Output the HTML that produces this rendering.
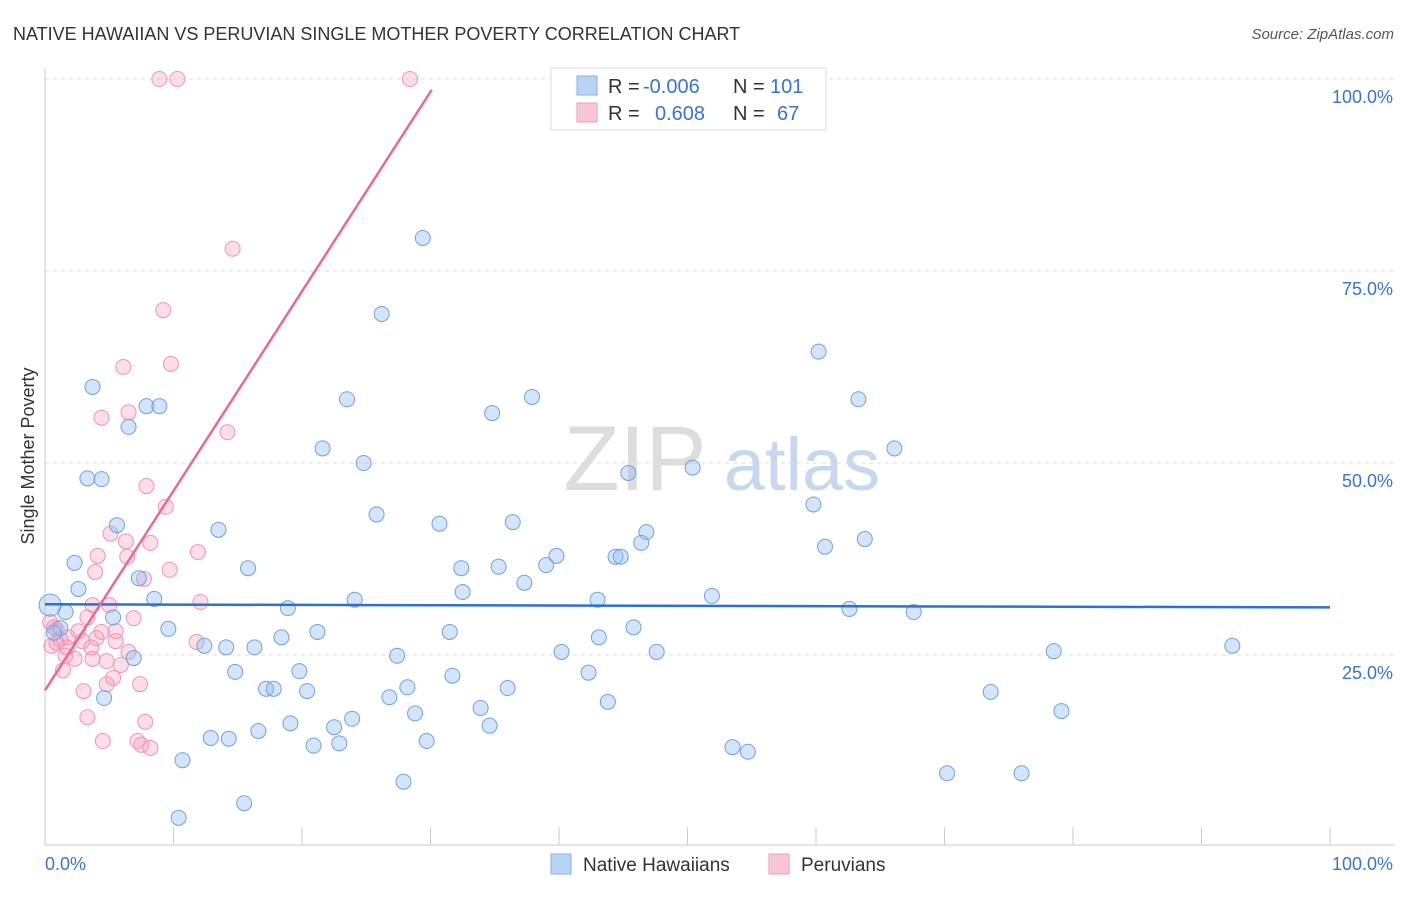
<!DOCTYPE html>
<html><head><meta charset="utf-8"><style>
body{margin:0;background:#fff;font-family:"Liberation Sans",sans-serif}
svg text{font-family:"Liberation Sans",sans-serif}
</style></head><body>
<svg id="chart" width="1406" height="892" xmlns="http://www.w3.org/2000/svg">
<text x="13" y="40" font-size="18" fill="#333">NATIVE HAWAIIAN VS PERUVIAN SINGLE MOTHER POVERTY CORRELATION CHART</text>
<text x="1394" y="39" font-size="15" fill="#555" text-anchor="end" font-style="italic">Source: ZipAtlas.com</text>
<g>
<text x="635" y="490" font-size="92" fill="#ddd" text-anchor="middle" font-family="Liberation Serif">ZIP</text>
<text x="802" y="490" font-size="74" fill="#c7d8ee" text-anchor="middle">atlas</text>
</g>
<g id="grid"></g>
<g id="axes"></g>
<g id="points"></g>
<g id="lines"></g>
<text transform="translate(34,456) rotate(-90)" font-size="18" fill="#333" text-anchor="middle">Single Mother Poverty</text>
<g>
<rect x="551" y="68" width="275" height="62" fill="#fff" stroke="#ddd"/>
<rect x="577" y="76" width="20" height="19" fill="#b8d3f3" stroke="#8ab2e3"/>
<rect x="577" y="103" width="20" height="19" fill="#f9c6d6" stroke="#ef9fb8"/>
<text x="608" y="93" font-size="20" fill="#333">R = </text><text x="643" y="93" font-size="20" fill="#3a74c9">-0.006</text>
<text x="733" y="93" font-size="20" fill="#333">N = </text><text x="770" y="93" font-size="20" fill="#3a74c9">101</text>
<text x="608" y="120" font-size="20" fill="#333">R = </text><text x="655" y="120" font-size="20" fill="#3a74c9">0.608</text>
<text x="733" y="120" font-size="20" fill="#333">N = </text><text x="777" y="120" font-size="20" fill="#3a74c9">67</text>
</g>
<g>
<rect x="551" y="854" width="20" height="20" fill="#b8d3f3" stroke="#8ab2e3"/>
<text x="583" y="871" font-size="19" fill="#333">Native Hawaiians</text>
<rect x="769" y="854" width="20" height="20" fill="#f9c6d6" stroke="#ef9fb8"/>
<text x="801" y="871" font-size="19" fill="#333">Peruvians</text>
</g>
</svg>
<script>
const blueX=[29.4,26.2,60.2,63.3,37.9,23.5,34.8,3.7,7.9,8.9,6.5,21.6,66.1,24.8,50.4,45.4,3.3,4.4,59.8,25.8,36.4,30.7,5.6,13.5,46.8,46.4,63.8,60.7,39.8,44.4,44.8,39.0,2.3,15.8,32.4,35.3,37.3,7.3,2.6,32.5,8.5,24.1,43.0,51.9,18.9,62.6,67.6,1.6,0.4,5.3,9.6,21.2,31.5,45.8,43.1,18.4,1.2,0.7,12.4,14.1,16.3,92.4,40.2,47.6,78.5,6.9,27.4,14.8,19.8,31.7,42.3,17.2,17.8,20.4,28.2,36.0,26.8,73.6,4.6,43.8,33.9,79.1,28.8,23.9,19.1,22.5,16.6,34.6,12.9,14.3,22.9,29.7,20.9,53.5,54.7,10.7,70.2,76.0,27.9,15.5,10.4];
const blueY=[79.3,69.4,64.5,58.3,58.6,58.3,56.5,59.9,57.4,57.4,54.7,51.9,51.9,50.0,49.4,48.7,48.0,47.9,44.6,43.3,42.3,42.1,41.9,41.3,41.0,39.6,40.1,39.1,37.9,37.8,37.8,36.7,37.0,36.3,36.3,36.5,34.4,35.0,33.6,33.2,32.3,32.2,32.2,32.7,31.1,31.0,30.6,30.6,31.5,29.9,28.4,28.0,28.0,28.6,27.3,27.3,28.5,27.9,26.2,26.0,26.0,26.2,25.4,25.4,25.5,24.6,24.9,22.8,22.9,22.3,22.7,20.6,20.6,20.3,20.8,20.7,19.5,20.2,19.4,18.9,18.1,17.7,17.4,16.7,16.1,15.6,15.1,15.8,14.2,14.1,13.5,13.8,13.2,13.0,12.4,11.3,9.6,9.6,8.5,5.7,3.8];
const pinkX=[8.9,10.3,28.4,14.6,9.2,9.8,6.1,6.5,4.4,14.2,7.9,9.4,5.1,6.3,8.2,11.9,4.1,6.4,9.7,3.9,7.7,12.1,3.7,5.0,6.9,3.3,0.4,0.9,2.6,4.4,5.5,1.8,4.0,1.2,2.9,5.5,11.8,0.5,1.7,3.6,6.5,1.6,2.3,3.7,4.8,5.9,1.4,5.3,4.8,7.4,3.0,3.3,7.8,4.5,7.2,7.5,8.2,0.9,0.7];
const pinkY=[100,100,100,77.9,69.9,62.9,62.5,56.6,55.9,54.0,47.0,44.3,40.8,39.8,39.6,38.4,37.9,37.8,36.1,35.8,34.9,31.9,31.5,31.5,29.8,29.9,29.3,28.3,28.1,28.0,28.1,27.3,27.2,27.0,26.8,26.8,26.7,26.2,26.0,26.0,25.4,24.9,24.5,24.5,24.2,23.7,23.0,22.0,21.2,21.2,20.3,16.9,16.3,13.8,13.8,13.3,12.9,26.6,28.6];
const blueLine=[[0,31.6],[100,31.2]];
const pinkLine=[[0,20.4],[30.1,98.6]];
const yTicks=[25,50,75,100];
const xTicks=[0,10,20,30,40,50,60,70,80,90,100];

const NS="http://www.w3.org/2000/svg";
const sx=v=>45+v*12.85, sy=v=>847-v*7.68;
function mk(tag,attrs,parent){const e=document.createElementNS(NS,tag);for(const k in attrs)e.setAttribute(k,attrs[k]);parent.appendChild(e);return e;}
const grid=document.getElementById('grid'),axes=document.getElementById('axes'),pts=document.getElementById('points'),lines=document.getElementById('lines');
yTicks.forEach(t=>{
  const l=mk('line',{x1:45,x2:1395,y1:sy(t),y2:sy(t),stroke:'#ddd','stroke-dasharray':'4,4'},grid);
  
  
  const tx=mk('text',{x:1393,y:sy(t)+24,'font-size':18,fill:'#3a74c9','text-anchor':'end'},axes);
  tx.textContent=t.toFixed(1)+'%';
  
  
});
const ya=mk('line',{x1:45,x2:45,y1:68,y2:845,stroke:'#ccc'},axes);


const xa=mk('line',{x1:45,x2:1395,y1:845,y2:845,stroke:'#ccc'},axes);


xTicks.forEach(t=>{
  const l=mk('line',{x1:sx(t),x2:sx(t),y1:827,y2:845,stroke:'#ccc'},axes);
  
  
});
[[0,'start',45],[100,'end',1393]].forEach(([v,a,x])=>{
  const tx=mk('text',{x:x,y:870,'font-size':18,fill:'#3a74c9','text-anchor':a},axes);
  tx.textContent=v.toFixed(1)+'%';
  
  
});
pinkX.forEach((x,i)=>{
  const c=mk('circle',{cx:sx(x),cy:sy(pinkY[i]),r:7.5,fill:'rgba(244,160,190,0.35)',stroke:'#ef94b3','stroke-width':1},pts);
  
  
});
blueX.forEach((x,i)=>{
  const c=mk('circle',{cx:sx(x),cy:sy(blueY[i]),r:i==48?11:7.5,fill:'rgba(150,190,240,0.4)',stroke:'#6fa1e0','stroke-width':1},pts);
  
  
});
const bl=mk('line',{x1:sx(blueLine[0][0]),y1:sy(blueLine[0][1]),x2:sx(blueLine[1][0]),y2:sy(blueLine[1][1]),stroke:'#2f6fd0','stroke-width':2.5},lines);


const pl=mk('line',{x1:sx(pinkLine[0][0]),y1:sy(pinkLine[0][1]),x2:sx(pinkLine[1][0]),y2:sy(pinkLine[1][1]),stroke:'#e8689a','stroke-width':2.5},lines);


</script>
</body></html>
